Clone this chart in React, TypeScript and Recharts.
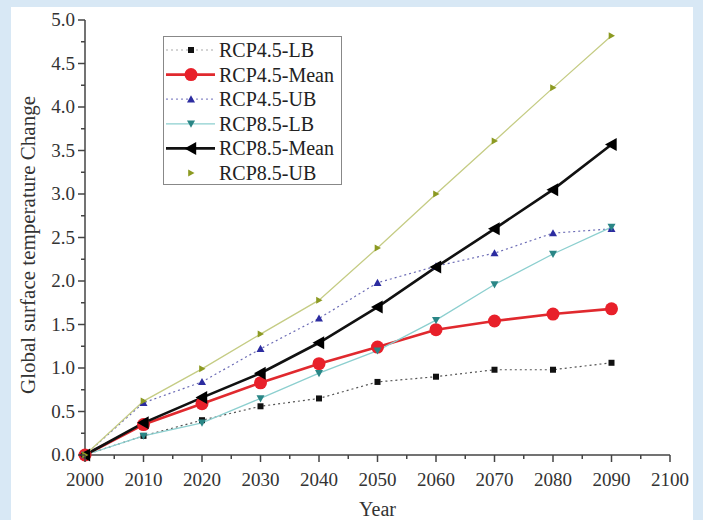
import { LineChart, Line, XAxis, YAxis, Legend } from "recharts";

const years = [2000, 2010, 2020, 2030, 2040, 2050, 2060, 2070, 2080, 2090];
const rcp45LB = [0, 0.22, 0.4, 0.56, 0.65, 0.84, 0.9, 0.98, 0.98, 1.06];
const rcp45Mean = [0, 0.35, 0.59, 0.83, 1.05, 1.24, 1.44, 1.54, 1.62, 1.68];
const rcp45UB = [0, 0.6, 0.84, 1.22, 1.57, 1.98, 2.17, 2.32, 2.55, 2.6];
const rcp85LB = [0, 0.22, 0.37, 0.65, 0.94, 1.2, 1.55, 1.96, 2.31, 2.62];
const rcp85Mean = [0, 0.37, 0.66, 0.94, 1.29, 1.7, 2.16, 2.6, 3.05, 3.57];
const rcp85UB = [0, 0.62, 0.99, 1.39, 1.78, 2.38, 3.0, 3.61, 4.22, 4.82];

const xTicks = [2000, 2005, 2010, 2015, 2020, 2025, 2030, 2035, 2040, 2045, 2050, 2055, 2060, 2065, 2070, 2075, 2080, 2085, 2090, 2095, 2100];
const yTicks = [0, 0.25, 0.5, 0.75, 1, 1.25, 1.5, 1.75, 2, 2.25, 2.5, 2.75, 3, 3.25, 3.5, 3.75, 4, 4.25, 4.5, 4.75, 5];

const data = years.map((year, i) => ({
  year,
  lb45: rcp45LB[i],
  mean45: rcp45Mean[i],
  ub45: rcp45UB[i],
  lb85: rcp85LB[i],
  mean85: rcp85Mean[i],
  ub85: rcp85UB[i],
}));

const FONT = '"Liberation Serif", "Times New Roman", serif';
const AXIS = "#444";
const TEXT = "#333";

type Shape = "square" | "circle" | "up" | "down" | "left" | "right";

function Marker({ shape, cx, cy, s, color }: { shape: Shape; cx: number; cy: number; s: number; color: string }) {
  const h = s / 2;
  switch (shape) {
    case "square":
      return <rect x={cx - h} y={cy - h} width={s} height={s} fill={color} />;
    case "circle":
      return <circle cx={cx} cy={cy} r={h} fill={color} />;
    case "up":
      return <polygon points={`${cx},${cy - h} ${cx + h},${cy + h * 0.8} ${cx - h},${cy + h * 0.8}`} fill={color} />;
    case "down":
      return <polygon points={`${cx},${cy + h} ${cx + h},${cy - h * 0.8} ${cx - h},${cy - h * 0.8}`} fill={color} />;
    case "left":
      return <polygon points={`${cx - h},${cy} ${cx + h * 0.8},${cy - h} ${cx + h * 0.8},${cy + h}`} fill={color} />;
    default:
      return <polygon points={`${cx + h},${cy} ${cx - h * 0.8},${cy - h} ${cx - h * 0.8},${cy + h}`} fill={color} />;
  }
}

const series = [
  { key: "lb45", name: "RCP4.5-LB", stroke: "#555", width: 1.2, dash: "2 3", shape: "square" as Shape, color: "#111", size: 6, legendLine: "#aaa" },
  { key: "mean45", name: "RCP4.5-Mean", stroke: "#e0292e", width: 2.6, dash: undefined, shape: "circle" as Shape, color: "#e8202a", size: 13, legendLine: "#e0292e" },
  { key: "ub45", name: "RCP4.5-UB", stroke: "#6b6bb5", width: 1.2, dash: "2 3", shape: "up" as Shape, color: "#2c2ca0", size: 8, legendLine: "#8a8ac8" },
  { key: "lb85", name: "RCP8.5-LB", stroke: "#8ccfcf", width: 1.3, dash: undefined, shape: "down" as Shape, color: "#2a8686", size: 8, legendLine: "#8ccfcf" },
  { key: "mean85", name: "RCP8.5-Mean", stroke: "#111", width: 2.6, dash: undefined, shape: "left" as Shape, color: "#000", size: 13, legendLine: "#111" },
  { key: "ub85", name: "RCP8.5-UB", stroke: "#c5cc84", width: 1.3, dash: undefined, shape: "right" as Shape, color: "#8c9a22", size: 7, legendLine: null },
];

function XTick(props: any) {
  const { x, y, payload } = props;
  const v = payload.value;
  const major = v % 10 === 0;
  const ay = y - 9;
  return (
    <g>
      <line x1={x} x2={x} y1={ay} y2={ay + (major ? 7 : 4)} stroke={AXIS} strokeWidth={1.5} />
      {major && (
        <text x={x} y={ay + 31} textAnchor="middle" fontFamily={FONT} style={{ fontFamily: FONT }} fontSize={19} fill={TEXT}>
          {v}
        </text>
      )}
    </g>
  );
}

function YTick(props: any) {
  const { x, y, payload } = props;
  const v = payload.value;
  const major = Math.abs(v * 2 - Math.round(v * 2)) < 1e-6;
  const ax = x + 9;
  return (
    <g>
      <line x1={ax} x2={ax - (major ? 7 : 4)} y1={y} y2={y} stroke={AXIS} strokeWidth={1.5} />
      {major && (
        <text x={x - 1} y={y + 6} textAnchor="end" fontFamily={FONT} style={{ fontFamily: FONT }} fontSize={19} fill={TEXT}>
          {v.toFixed(1)}
        </text>
      )}
    </g>
  );
}

function LegendBox() {
  return (
    <svg width={180} height={150} style={{ display: "block" }}>
      <rect x={0.5} y={0.5} width={178} height={148} fill="#fff" stroke="#888" strokeWidth={1} />
      {series.map((s, i) => {
        const cy = 14 + i * 24.6;
        return (
          <g key={s.key}>
            {s.legendLine && (
              <line x1={3} x2={52} y1={cy} y2={cy} stroke={s.legendLine} strokeWidth={s.width} strokeDasharray={s.dash} />
            )}
            <Marker shape={s.shape} cx={28} cy={cy} s={s.size} color={s.color} />
            <text x={56} y={cy + 7} fontFamily={FONT} style={{ fontFamily: FONT }} fontSize={20} fill="#222">
              {s.name}
            </text>
          </g>
        );
      })}
    </svg>
  );
}

function YTitle() {
  return (
    <text
      transform="translate(28,245) rotate(-90)"
      textAnchor="middle"
      dy="0.35em"
      fontFamily={FONT}
      style={{ fontFamily: FONT }}
      fontSize={21}
      fill={TEXT}
    >
      Global surface temperature Change
    </text>
  );
}

export default function App() {
  return (
    <div style={{ position: "absolute", left: 0, top: 0, width: 703, height: 520, background: "#d8e8f5" }}>
      <div style={{ position: "absolute", left: 11, top: 7, width: 682, height: 513, background: "#fff" }} />
      <div style={{ position: "absolute", left: 0, top: 0 }}>
        <LineChart width={703} height={520} data={data} margin={{ top: 20, right: 33, bottom: 5, left: 25 }}>
          <XAxis
            dataKey="year"
            type="number"
            domain={[2000, 2100]}
            ticks={xTicks}
            interval={0}
            height={60}
            tickSize={6}
            tickMargin={3}
            tickLine={false}
            tick={<XTick />}
            axisLine={{ stroke: AXIS, strokeWidth: 1.5 }}
            label={{ value: "Year", position: "insideBottom", offset: -1, fontFamily: FONT, fontSize: 20, fill: TEXT }}
          />
          <YAxis
            type="number"
            domain={[0, 5]}
            ticks={yTicks}
            interval={0}
            width={60}
            tickSize={6}
            tickMargin={3}
            tickLine={false}
            tick={<YTick />}
            axisLine={{ stroke: AXIS, strokeWidth: 1.5 }}
            label={{ content: YTitle }}
          />
          <Legend
            layout="horizontal"
            verticalAlign="middle"
            align="center"
            content={() => <LegendBox />}
            wrapperStyle={{ left: 163, top: 36, width: 180, height: 150 }}
          />
          {series.map((s) => (
            <Line
              key={s.key}
              dataKey={s.key}
              name={s.name}
              type="linear"
              stroke={s.stroke}
              strokeWidth={s.width}
              strokeDasharray={s.dash}
              isAnimationActive={false}
              activeDot={false}
              dot={(p: any) => (
                <Marker key={`${s.key}-${p.index}`} shape={s.shape} cx={p.cx} cy={p.cy} s={s.size} color={s.color} />
              )}
            />
          ))}
        </LineChart>
      </div>
    </div>
  );
}
